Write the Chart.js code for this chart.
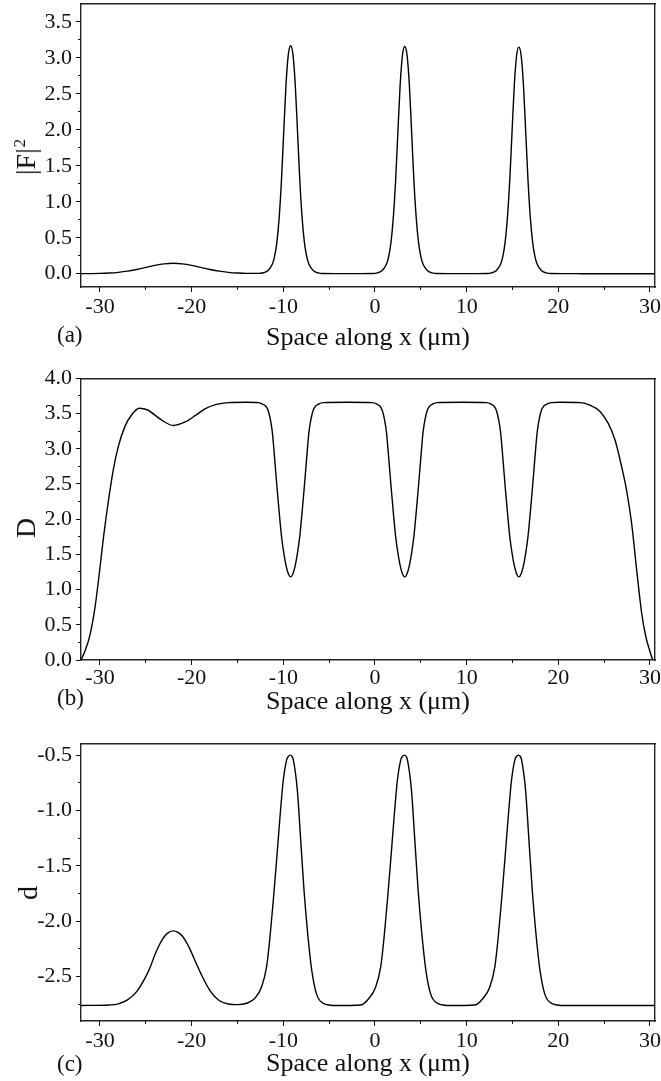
<!DOCTYPE html>
<html>
<head>
<meta charset="utf-8">
<title>|F|^2, D and d along x</title>
<script src="https://cdn.jsdelivr.net/npm/chart.js@4.4.1/dist/chart.umd.min.js"></script>
<style>
  html, body { margin: 0; padding: 0; background: #fff; }
  #wrap {
    position: relative; width: 661px; height: 1081px; overflow: hidden;
    font-family: 'Liberation Serif', 'Times New Roman', serif; color: #111;
  }
  #wrap canvas { position: absolute; left: 0; }
  .tag { position: absolute; left: 57px; font-size: 23px; line-height: 1; transform: translateY(-50%); }
  .ytitle {
    position: absolute; font-size: 28px; line-height: 1; white-space: nowrap;
    transform: translate(-50%, -50%) rotate(-90deg);
  }
  .ytitle .sup { position: relative; top: -0.6em; font-size: 0.6em; margin-left: 1px; }
</style>
</head>
<body>
<div id="wrap">
  <canvas id="chartA" width="661" height="360" style="top:0"></canvas>
  <canvas id="chartB" width="661" height="360" style="top:360px"></canvas>
  <canvas id="chartC" width="661" height="361" style="top:720px"></canvas>

  <div class="ytitle" style="left:26px; top:157px">|F|<span class="sup">2</span></div>
  <div class="ytitle" style="left:26px; top:528px">D</div>
  <div class="ytitle" style="left:28px; top:893px">d</div>

  <div class="tag" style="top:334px">(a)</div>
  <div class="tag" style="top:697px">(b)</div>
  <div class="tag" style="top:1063px">(c)</div>
</div>

<script>
/* ---- data ---- */

// (a) |F|^2 : small bump at -22, three peaks
const xA = [
  -32.07, -30, -29, -28, -27, -26, -25, -24, -23, -22, -21, -20, -19, -18, -17, -16, -15, -14,
  -12.7, -12.2, -11.7, -11.2, -10.95, -10.7, -10.45, -10.2, -9.95, -9.7, -9.45,
  -9.2, -8.95, -8.7, -8.45, -8.2, -7.95, -7.7, -7.45, -7.2, -6.7, -6.2, -5.7,
  -3,
  -0.25, 0.25, 0.75, 1.25, 1.5, 1.75, 2, 2.25, 2.5, 2.75, 3,
  3.25, 3.5, 3.75, 4, 4.25, 4.5, 4.75, 5, 5.25, 5.75, 6.25, 6.75,
  9.5,
  12.2, 12.7, 13.2, 13.7, 13.95, 14.2, 14.45, 14.7, 14.95, 15.2, 15.45,
  15.7, 15.95, 16.2, 16.45, 16.7, 16.95, 17.2, 17.45, 17.7, 18.2, 18.7, 19.2,
  22, 26, 30.55
];
const fA = [
  0.0005, 0.004, 0.009, 0.019, 0.035, 0.059, 0.087, 0.116, 0.137, 0.145, 0.137, 0.116, 0.087, 0.059, 0.035, 0.019, 0.009, 0.004,
  0.005, 0.013, 0.042, 0.13, 0.24, 0.44, 0.78, 1.30, 1.98, 2.64, 3.05,
  3.17, 3.05, 2.64, 1.98, 1.30, 0.78, 0.44, 0.24, 0.13, 0.04, 0.011, 0.003,
  0.0005,
  0.003, 0.011, 0.04, 0.13, 0.24, 0.44, 0.78, 1.29, 1.97, 2.63, 3.04,
  3.16, 3.04, 2.63, 1.97, 1.29, 0.78, 0.44, 0.24, 0.13, 0.04, 0.011, 0.003,
  0.0005,
  0.003, 0.011, 0.04, 0.13, 0.24, 0.44, 0.78, 1.29, 1.96, 2.62, 3.03,
  3.15, 3.03, 2.62, 1.96, 1.29, 0.78, 0.44, 0.24, 0.13, 0.04, 0.011, 0.003,
  0.0003, 0.0001, 0
];

// (b) D : plateau with three dips, falling to 0 at both ends
const xB = [
  -32.07, -31.6, -31.1, -30.55, -30.1, -29.6, -29.1, -28.55, -28.0, -27.3, -26.5, -25.7, -24.8, -23.3, -22.0, -20.7, -19.5, -18.5, -17.3, -16, -14,
  -12.7, -12.2, -11.95, -11.7, -11.45, -11.2, -10.95, -10.7, -10.45, -10.2, -9.95, -9.7, -9.45,
  -9.2, -8.95, -8.7, -8.45, -8.2, -7.95, -7.7, -7.45, -7.2, -6.95, -6.7, -6.45, -6.2, -5.7,
  -3,
  -0.25, 0.25, 0.5, 0.75, 1.0, 1.25, 1.5, 1.75, 2.0, 2.25, 2.5, 2.75, 3.0,
  3.25, 3.5, 3.75, 4.0, 4.25, 4.5, 4.75, 5.0, 5.25, 5.5, 5.75, 6.0, 6.25, 6.75,
  9.5,
  12.2, 12.7, 12.95, 13.2, 13.45, 13.7, 13.95, 14.2, 14.45, 14.7, 14.95, 15.2, 15.45,
  15.7, 15.95, 16.2, 16.45, 16.7, 16.95, 17.2, 17.45, 17.7, 17.95, 18.2, 18.45, 18.7, 19.2,
  20.2, 22.4, 23.45, 24.55, 25.45, 26.2, 26.9, 27.45, 28.0, 28.55, 29.1, 29.55, 30.0, 30.3
];
const dB = [
  0, 0.14, 0.35, 0.74, 1.2, 1.76, 2.24, 2.7, 3.03, 3.31, 3.49, 3.575, 3.55, 3.41, 3.33, 3.38, 3.48, 3.57, 3.63, 3.655, 3.66,
  3.655, 3.63, 3.61, 3.56, 3.44, 3.24, 2.87, 2.47, 2.10, 1.76, 1.52, 1.34, 1.225,
  1.18, 1.225, 1.34, 1.52, 1.76, 2.10, 2.47, 2.87, 3.24, 3.44, 3.56, 3.61, 3.63, 3.655,
  3.66,
  3.655, 3.63, 3.61, 3.56, 3.44, 3.24, 2.87, 2.47, 2.10, 1.76, 1.52, 1.34, 1.225,
  1.18, 1.225, 1.34, 1.52, 1.76, 2.10, 2.47, 2.87, 3.24, 3.44, 3.56, 3.61, 3.63, 3.655,
  3.66,
  3.655, 3.63, 3.61, 3.56, 3.44, 3.24, 2.87, 2.47, 2.10, 1.76, 1.52, 1.34, 1.225,
  1.18, 1.225, 1.34, 1.52, 1.76, 2.10, 2.47, 2.87, 3.24, 3.44, 3.56, 3.61, 3.63, 3.655,
  3.66, 3.655, 3.62, 3.53, 3.36, 3.12, 2.75, 2.41, 1.94, 1.28, 0.66, 0.33, 0.12, 0
];

// (c) d : bump at -22 and three peaks on a -2.76 floor
const xC = [
  -32.07, -29, -28, -27, -26, -25, -24.5, -24, -23.5, -23, -22.5, -22, -21.5, -21, -20.5, -20, -19.5, -19, -18, -17, -16, -15,
  -14.0, -13.1, -12.36, -11.82, -11.45, -11.09, -10.73, -10.36, -10.0, -9.64, -9.45,
  -9.25, -9.05, -8.9, -8.47, -8.1, -7.74, -7.34, -6.9, -6.36, -5.64, -4.18,
  -1.55, -0.65, 0.09, 0.63, 1.0, 1.36, 1.72, 2.09, 2.45, 2.81, 3.0,
  3.2, 3.4, 3.55, 3.98, 4.35, 4.71, 5.11, 5.55, 6.09, 6.81, 8.27,
  10.9, 11.8, 12.54, 13.08, 13.45, 13.81, 14.17, 14.54, 14.9, 15.26, 15.45,
  15.65, 15.85, 16.0, 16.43, 16.8, 17.16, 17.56, 18.0, 18.54, 19.26, 20.72,
  25, 30.55
];
const dC = [
  -2.76, -2.755, -2.745, -2.71, -2.635, -2.5, -2.41, -2.3, -2.21, -2.14, -2.1, -2.087, -2.1, -2.135, -2.2, -2.285, -2.38, -2.47, -2.625, -2.715, -2.747, -2.752,
  -2.74, -2.695, -2.59, -2.41, -2.14, -1.81, -1.447, -1.057, -0.725, -0.545, -0.512,
  -0.5, -0.512, -0.545, -0.816, -1.27, -1.72, -2.11, -2.44, -2.66, -2.74, -2.76,
  -2.755, -2.695, -2.59, -2.41, -2.14, -1.81, -1.447, -1.057, -0.725, -0.545, -0.512,
  -0.5, -0.512, -0.545, -0.816, -1.27, -1.72, -2.11, -2.44, -2.66, -2.74, -2.76,
  -2.755, -2.695, -2.59, -2.41, -2.14, -1.81, -1.447, -1.057, -0.725, -0.545, -0.512,
  -0.5, -0.512, -0.545, -0.816, -1.27, -1.72, -2.11, -2.44, -2.66, -2.74, -2.76,
  -2.76, -2.76
];

// axis ticks
const xMajor = [-30, -20, -10, 0, 10, 20, 30];
const xMinor = [-30, -25, -20, -15, -10, -5, 0, 5, 10, 15, 20, 25, 30];
const yMajorA = [0, 0.5, 1, 1.5, 2, 2.5, 3, 3.5];
const yMinorA = [0, 0.25, 0.5, 0.75, 1, 1.25, 1.5, 1.75, 2, 2.25, 2.5, 2.75, 3, 3.25, 3.5];
const yMajorB = [0, 0.5, 1, 1.5, 2, 2.5, 3, 3.5, 4];
const yMinorB = [0, 0.25, 0.5, 0.75, 1, 1.25, 1.5, 1.75, 2, 2.25, 2.5, 2.75, 3, 3.25, 3.5, 3.75, 4];
const yMajorC = [-2.5, -2, -1.5, -1, -0.5];
const yMinorC = [-2.75, -2.5, -2.25, -2, -1.75, -1.5, -1.25, -1, -0.75, -0.5];

const X_MIN = -32.07, X_MAX = 30.55;

/* ---- chart setup ---- */
Chart.defaults.font.family = "'Liberation Serif', 'Times New Roman', serif";
Chart.defaults.color = '#111';

var INK = '#111';
var FRAME = '#222';
var tickFont = { size: 22 };
var titleFont = { size: 26 };

function fixedTicks(values) {
  return function (scale) {
    scale.ticks = values.map(function (v) { return { value: v }; });
  };
}

// zero-size axis used only for its border (top / right frame) or for minor ticks
function bareAxis(position, weight, min, max, ticks, tickLen, showBorder) {
  var horiz = (position === 'top' || position === 'bottom');
  var cfg = {
    type: 'linear', position: position, weight: weight,
    afterFit: function (s) {
      if (horiz) s.height = 0; else s.width = 0;
      s.paddingLeft = s.paddingRight = s.paddingTop = s.paddingBottom = 0;
    },
    ticks: { display: false },
    grid: { drawOnChartArea: false, drawTicks: tickLen > 0, tickLength: tickLen, tickColor: INK, tickWidth: 1 },
    border: { display: showBorder, color: FRAME, width: 1.4 }
  };
  if (min !== undefined) { cfg.min = min; cfg.max = max; }
  if (ticks) cfg.afterBuildTicks = fixedTicks(ticks);
  return cfg;
}

function makePanel(id, xs, ys, p) {
  var pts = xs.map(function (x, i) { return { x: x, y: ys[i] }; });
  return new Chart(document.getElementById(id), {
    type: 'line',
    data: {
      datasets: [{
        data: pts,
        borderColor: '#000',
        borderWidth: 1.4,
        pointRadius: 0,
        fill: false,
        cubicInterpolationMode: 'monotone'
      }]
    },
    options: {
      responsive: false,
      animation: false,
      events: [],
      layout: { padding: { top: p.top, right: 6, bottom: 0, left: 0 } },
      plugins: { legend: { display: false }, tooltip: { enabled: false } },
      scales: {
        x: {
          type: 'linear', position: 'bottom', weight: 1, min: X_MIN, max: X_MAX,
          afterBuildTicks: fixedTicks(xMajor),
          afterFit: function (s) { s.height = p.xh; s.paddingLeft = 0; s.paddingRight = 0; },
          ticks: { font: tickFont, color: INK, padding: p.xpad, maxRotation: 0, autoSkip: false,
                   callback: function (v) { return String(v); } },
          grid: { drawOnChartArea: false, tickLength: 5, tickColor: INK, tickWidth: 1 },
          border: { color: FRAME, width: 1.4 },
          title: { display: true, text: 'Space along x (μm)', font: titleFont, color: INK,
                   padding: { top: 0, bottom: p.tpad } }
        },
        xm: bareAxis('bottom', 0, X_MIN, X_MAX, xMinor, 3, false),
        xt: bareAxis('top', 0, undefined, undefined, null, 0, true),
        y: {
          type: 'linear', position: 'left', weight: 1, min: p.ymin, max: p.ymax,
          afterBuildTicks: fixedTicks(p.major),
          afterFit: function (s) { s.width = 81; s.paddingTop = 0; s.paddingBottom = 0; },
          ticks: { font: tickFont, color: INK, padding: 4, autoSkip: false,
                   callback: function (v) { return v.toFixed(1); } },
          grid: { drawOnChartArea: false, tickLength: 5, tickColor: INK, tickWidth: 1 },
          border: { color: FRAME, width: 1.4 }
        },
        ym: bareAxis('left', 0, p.ymin, p.ymax, p.minor, 3, false),
        yr: bareAxis('right', 0, undefined, undefined, null, 0, true)
      }
    }
  });
}

makePanel('chartA', xA, fA, { top: 4, xh: 73, xpad: 2, tpad: 5.8, ymin: -0.185, ymax: 3.75, major: yMajorA, minor: yMinorA });
makePanel('chartB', xB, dB, { top: 18.3, xh: 60, xpad: 0, tpad: 2.4, ymin: 0, ymax: 4, major: yMajorB, minor: yMinorB });
makePanel('chartC', xC, dC, { top: 24, xh: 60, xpad: 2, tpad: 1.4, ymin: -2.9, ymax: -0.4, major: yMajorC, minor: yMinorC });
</script>
</body>
</html>
